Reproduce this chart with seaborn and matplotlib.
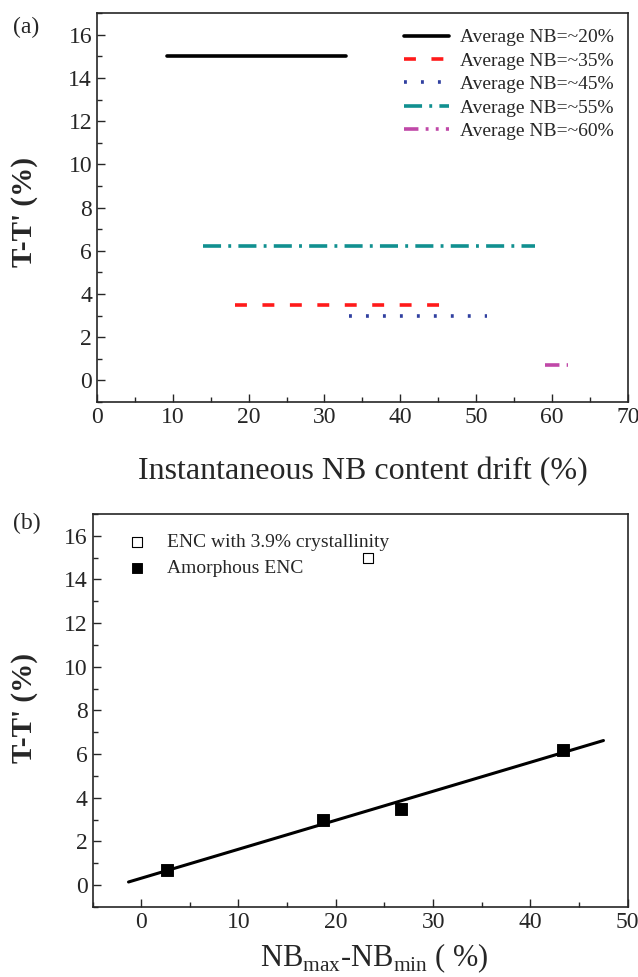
import matplotlib
matplotlib.use("Agg")
import matplotlib.pyplot as plt
from matplotlib.ticker import MultipleLocator
import numpy as np
import pandas as pd
import seaborn as sns

# panel (a): horizontal segments, T-T' vs instantaneous NB drift range
labels_a = ["Average NB=~20%", "Average NB=~35%", "Average NB=~45%",
            "Average NB=~55%", "Average NB=~60%"]
x_start = [9.2, 18.2, 33.3, 14.0, 59.1]
x_end = [32.8, 45.3, 51.4, 57.7, 62.1]
tt_a = [15.0, 3.5, 3.0, 6.2, 0.7]
colors_a = ["black", "#ff1a1a", "#3040a0", "#109090", "#c048a8"]
styles_a = ["-", (0, (3.3, 4.3)), (0, (0.8, 3.9)), (0, (5, 2, 0.8, 2)),
            (0, (4, 2, 0.8, 2, 0.8, 2))]

# panel (b): T-T' vs NBmax-NBmin
nb_diff = [2.7, 18.7, 26.7, 43.3]
tt_b = [0.7, 3.0, 3.5, 6.2]
cryst_x = [23.3]
cryst_y = [15.0]
fit_range = [-1.3, 47.5]

sns.set_style("ticks")
plt.rcParams["font.family"] = ["Liberation Serif", "DejaVu Serif"]
plt.rcParams["mathtext.fontset"] = "custom"
plt.rcParams["mathtext.rm"] = "Liberation Serif"

fig = plt.figure(figsize=(6.38, 9.77), dpi=100)
ax1 = fig.add_axes([0.152, 0.5885, 0.832, 0.398])
ax2 = fig.add_axes([0.145, 0.0717, 0.839, 0.4022])

for lab, x0, x1, y, c, ls in zip(labels_a, x_start, x_end, tt_a, colors_a, styles_a):
    sns.lineplot(x=[x0, x1], y=[y, y], ax=ax1, color=c, linestyle=ls,
                 linewidth=2.6, label=lab)

ax1.set_xlim(0, 70)
ax1.set_ylim(-1, 17)
ax1.set_xlabel("Instantaneous NB content drift (%)", fontsize=23, labelpad=21)
ax1.set_ylabel("T-T' (%)", fontsize=21, fontweight="bold")
ax1.yaxis.set_label_coords(-0.111, 0.49)
ax1.legend(loc="upper right", bbox_to_anchor=(1.0, 0.995), frameon=False,
           fontsize=14, handlelength=2.3, labelspacing=0.3, handletextpad=0.6,
           borderaxespad=0.3)
ax1.text(-0.158, 0.964, "(a)", transform=ax1.transAxes, fontsize=17,
         va="center", ha="left")

df_b = pd.DataFrame({"x": nb_diff, "y": tt_b})
slope, icpt = np.polyfit(df_b["x"], df_b["y"], 1)
fx = np.array(fit_range)
sns.lineplot(x=fx, y=slope * fx + icpt, ax=ax2, color="black", linewidth=2.2)
sns.scatterplot(x=cryst_x, y=cryst_y, ax=ax2, marker="s", s=55,
                facecolor="white", edgecolor="black", linewidth=0.8,
                label="ENC with 3.9% crystallinity", zorder=3)
sns.scatterplot(data=df_b, x="x", y="y", ax=ax2, marker="s", s=65,
                color="black", edgecolor="black", label="Amorphous ENC", zorder=3)

ax2.set_xlim(-5, 50)
ax2.set_ylim(-1, 17)
ax2.set_xlabel(r"NB$_{\mathrm{max}}$-NB$_{\mathrm{min}}$ ( %)", fontsize=22)
ax2.xaxis.set_label_coords(0.527, -0.088)
ax2.set_ylabel("T-T' (%)", fontsize=21, fontweight="bold")
ax2.yaxis.set_label_coords(-0.101, 0.506)
ax2.legend(loc="upper left", bbox_to_anchor=(0.015, 0.995), frameon=False,
           fontsize=14, handletextpad=0.5, labelspacing=0.45, borderaxespad=0.5,
           markerscale=0.9)
ax2.text(-0.148, 0.977, "(b)", transform=ax2.transAxes, fontsize=17,
         va="center", ha="left")

for ax in (ax1, ax2):
    ax.xaxis.set_major_locator(MultipleLocator(10))
    ax.xaxis.set_minor_locator(MultipleLocator(5))
    ax.yaxis.set_major_locator(MultipleLocator(2))
    ax.yaxis.set_minor_locator(MultipleLocator(1))
    ax.tick_params(which="both", direction="in", top=False, right=False,
                   labelsize=17, width=1.0)
    ax.tick_params(which="major", length=6)
    ax.tick_params(which="minor", length=3.5)
    for sp in ax.spines.values():
        sp.set_linewidth(1.2)
        sp.set_visible(True)

fig.savefig("out.png", dpi=100)
